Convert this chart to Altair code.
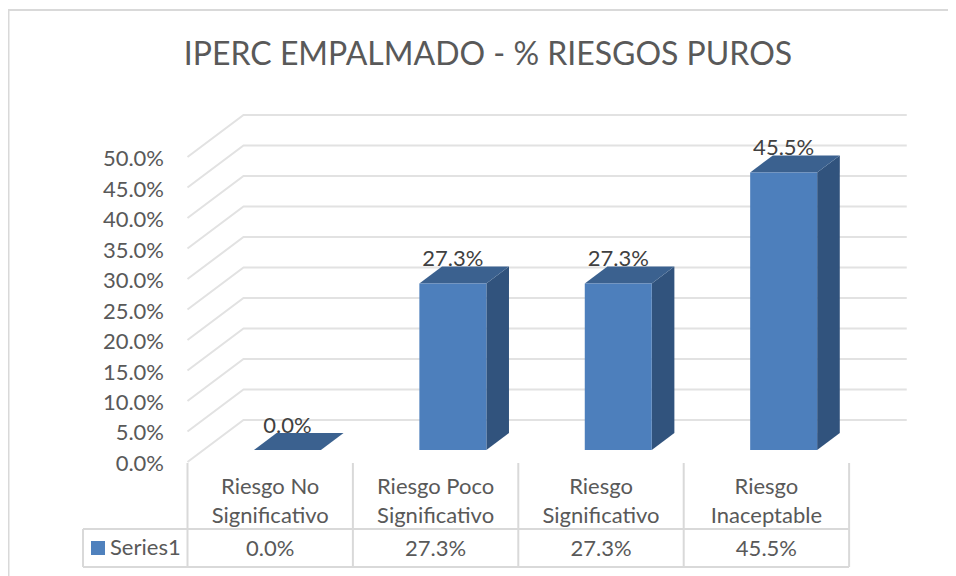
import altair as alt
import pandas as pd

# ---- chart values -------------------------------------------------
TITLE = "IPERC EMPALMADO - % RIESGOS PUROS"
categories = ["Riesgo No\nSignificativo", "Riesgo Poco\nSignificativo", "Riesgo\nSignificativo", "Riesgo\nInaceptable"]
values = [0.0, 27.3, 27.3, 45.5]
value_labels = ["0.0%", "27.3%", "27.3%", "45.5%"]
tick_values = [0, 5, 10, 15, 20, 25, 30, 35, 40, 45, 50]
tick_labels = ["0.0%", "5.0%", "10.0%", "15.0%", "20.0%", "25.0%", "30.0%", "35.0%", "40.0%", "45.0%", "50.0%"]
series_name = "Series1"

FONT = "Lato"
FS = 22
W, H = 940, 568

# pseudo-3D projection, in data units (category index, percent)
DX = 0.3386      # horizontal shift of the back wall
DY = 6.885       # vertical shift of the back wall
BAR_LEFT = 0.305
BAR_W = 0.405
D0, D1 = 0.286, 0.69
WALL_END = 4.01

x_scale = alt.Scale(domain=[-1.0852, 4.5979], range=[0, W], nice=False, zero=False)
y_scale = alt.Scale(domain=[-18.69, 74.43], range=[H, 0], nice=False, zero=False)
X = lambda f: alt.X(f, type="quantitative", scale=x_scale, axis=None)
Y = lambda f: alt.Y(f, type="quantitative", scale=y_scale, axis=None)


def px(p):
    return alt.value(p - 8)


def proj(u, v, d):
    return u + DX * d, v + DY * d


# gridlines
rows = []
for t in tick_values:
    for i, (u, d) in enumerate([(0, 0), (0, 1), (WALL_END, 1)]):
        x, y = proj(u, t, d)
        rows.append(dict(t=t, i=i, x=x, y=y))
grid = alt.Chart(pd.DataFrame(rows)).mark_line(color="#e2e2e2", strokeWidth=2).encode(
    x=X("x"), y=Y("y"), detail="t:N", order="i:Q")

# bars
front, side, top, labels = [], [], [], []
for k, v in enumerate(values):
    l = k + BAR_LEFT
    r = l + BAR_W
    fx0, fy0 = proj(l, 0, D0)
    fx1, fyt = proj(r, v, D0)
    front.append(dict(x=fx0, x2=fx1, y=fy0, y2=fyt))
    bx1, by0 = proj(r, 0, D1)
    _, byt = proj(r, v, D1)
    side.append(dict(k=k, x=fx1, y=fy0, y2=fyt))
    side.append(dict(k=k, x=bx1, y=by0, y2=byt))
    bx0, _ = proj(l, v, D1)
    top.append(dict(k=k, y=fyt, x=fx0, x2=fx1))
    top.append(dict(k=k, y=byt, x=bx0, x2=bx1))
    labels.append(dict(x=(fx0 + fx1) / 2, y=byt, label=value_labels[k]))

front_m = alt.Chart(pd.DataFrame(front)).mark_rect(color="#4d7fbc").encode(
    x=X("x"), x2="x2", y=Y("y"), y2="y2")
side_m = alt.Chart(pd.DataFrame(side)).mark_area(color="#31537d", opacity=1).encode(
    x=X("x"), y=Y("y"), y2="y2", detail="k:N")
top_m = alt.Chart(pd.DataFrame(top)).mark_area(color="#3b618f", orient="horizontal", opacity=1).encode(
    y=Y("y"), x=X("x"), x2="x2", detail="k:N")
label_m = alt.Chart(pd.DataFrame(labels)).mark_text(
    font=FONT, fontSize=FS, color="#404040", baseline="middle", dy=-7).encode(
    x=X("x"), y=Y("y"), text="label:N")

# value axis labels
axis_m = alt.Chart(pd.DataFrame(dict(y=tick_values, label=tick_labels))).mark_text(
    font=FONT, fontSize=FS, color="#595959", align="right", baseline="middle", dy=2).encode(
    x=px(164), y=Y("y"), text="label:N")

# data table
cat_df = pd.DataFrame(dict(x=[i + 0.5 for i in range(4)], label=categories, val=value_labels))
head_m = alt.Chart(cat_df).mark_text(
    font=FONT, fontSize=FS, color="#595959", lineBreak="\n", lineHeight=29, baseline="middle").encode(
    x=X("x"), y=px(487), text="label:N")
val_m = alt.Chart(cat_df).mark_text(
    font=FONT, fontSize=FS, color="#595959", baseline="middle").encode(
    x=X("x"), y=px(549), text="val:N")
vlines = alt.Chart(pd.DataFrame(dict(x=[0, 1, 2, 3, 4]))).mark_rule(color="#d9d9d9", strokeWidth=2).encode(
    x=X("x"), y=px(463), y2=px(567))
hline1 = alt.Chart(pd.DataFrame(dict(a=[0]))).mark_rule(color="#d9d9d9", strokeWidth=2).encode(
    x=px(83), x2=px(849), y=px(529))
hline2 = alt.Chart(pd.DataFrame(dict(a=[0]))).mark_rule(color="#d9d9d9", strokeWidth=2).encode(
    x=px(83), x2=px(849), y=px(567))
vline0 = alt.Chart(pd.DataFrame(dict(a=[0]))).mark_rule(color="#d9d9d9", strokeWidth=2).encode(
    x=px(83), y=px(529), y2=px(567))
swatch = alt.Chart(pd.DataFrame(dict(a=[0]))).mark_rect(color="#4f81bd").encode(
    x=px(91), x2=px(105), y=px(541), y2=px(555))
series_m = alt.Chart(pd.DataFrame(dict(label=[series_name]))).mark_text(
    font=FONT, fontSize=FS, color="#595959", align="left", baseline="middle").encode(
    x=px(110), y=px(548), text="label:N")

# outer frame
frame_l = alt.Chart(pd.DataFrame(dict(a=[0]))).mark_rule(color="#d9d9d9", strokeWidth=2).encode(
    x=px(8.5), y=px(10), y2=px(576))
frame_t = alt.Chart(pd.DataFrame(dict(a=[0]))).mark_rule(color="#d9d9d9", strokeWidth=2).encode(
    x=px(8), x2=px(956), y=px(10))

chart = alt.layer(
    frame_l, frame_t, grid, side_m, top_m, front_m, label_m, axis_m,
    vlines, hline1, hline2, vline0, swatch, series_m, head_m, val_m,
).properties(
    width=W, height=H,
    autosize=alt.AutoSizeParams(type="none"), padding=0,
    title=alt.TitleParams(TITLE, anchor="middle", font=FONT, fontSize=32, fontWeight="normal",
                          color="#595959", baseline="middle", offset=0, dy=79, dx=10),
).configure_view(stroke=None)

chart.save("out.html", embed_options={"renderer": "svg", "actions": False})
